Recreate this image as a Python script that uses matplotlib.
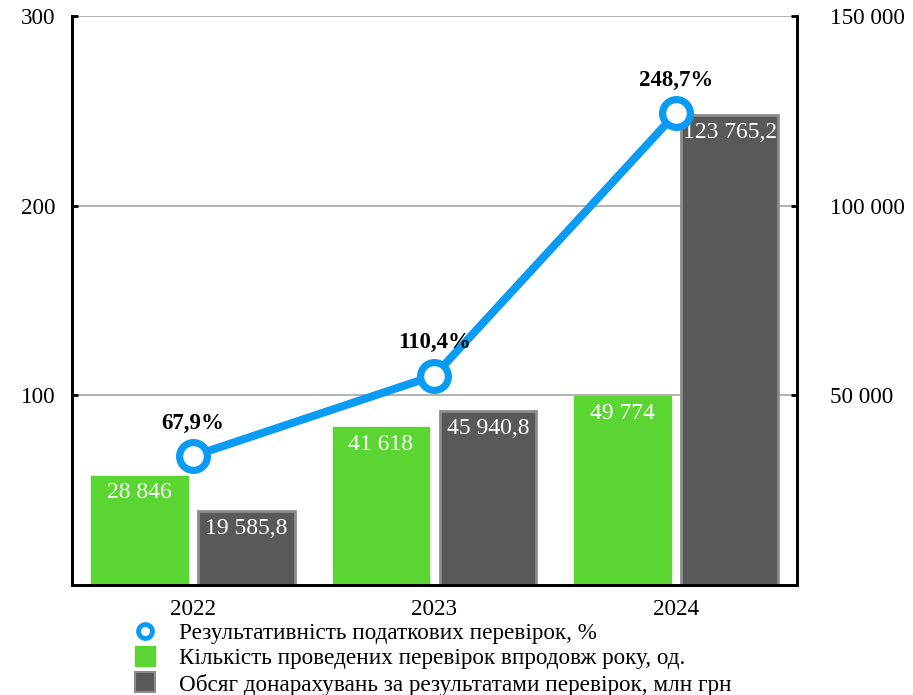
import matplotlib.pyplot as plt
from matplotlib.lines import Line2D
import numpy as np

plt.rcParams['font.family'] = ['Liberation Serif', 'DejaVu Serif']

years = ["2022", "2023", "2024"]
checks = [28846, 41618, 49774]
amounts = [19585.8, 45940.8, 123765.2]
efficiency = [67.9, 110.4, 248.7]

label_line = "Результативність податкових перевірок, %"
label_checks = "Кількість проведених перевірок впродовж року, од."
label_amounts = "Обсяг донарахувань за результатами перевірок, млн грн"

green = "#5bd532"
grey = "#595959"
blue = "#0a9bf5"
fs = 16.7


def fmt(v, dec):
    s = f"{v:,.{dec}f}".replace(",", " ").replace(".", ",")
    return s


fig = plt.figure(figsize=(9.13, 6.95), dpi=100)
ax = fig.add_axes([0.0789, 0.1583, 0.794, 0.819])
ax2 = ax.twinx()
ax.set_zorder(ax2.get_zorder() + 1)
ax.patch.set_visible(False)

x = np.arange(len(years))
w = 0.4
ax2.bar(x - 0.222, checks, w, color=green, edgecolor=green, zorder=2)
ax2.bar(x + 0.222, amounts, w, color=grey, edgecolor="#8c8c8c", linewidth=2, zorder=2)
ax2.set_ylim(0, 150000)
ax2.set_yticks([50000, 100000, 150000])
ax2.set_yticklabels([fmt(v, 0) for v in [50000, 100000, 150000]])
ax2.yaxis.grid(True, color="#a6a6a6", linewidth=1.2)
ax2.set_axisbelow(True)

for i in range(len(years)):
    ax2.annotate(fmt(checks[i], 0), (x[i] - 0.222, checks[i]), xytext=(0, -5),
                 textcoords="offset points", ha="center", va="top",
                 color="white", fontsize=17)
    ax2.annotate(fmt(amounts[i], 1), (x[i] + 0.222, amounts[i]), xytext=(0, -5),
                 textcoords="offset points", ha="center", va="top",
                 color="white", fontsize=17)

ax.plot(x, efficiency, color=blue, linewidth=5.8, marker="o", markersize=20,
        markerfacecolor="white", markeredgecolor=blue, markeredgewidth=5.2, zorder=3)
for i in range(len(years)):
    ax.annotate(fmt(efficiency[i], 1) + "%", (x[i], efficiency[i]), xytext=(0, 16),
                textcoords="offset points", ha="center", va="bottom",
                color="black", fontsize=16.5, fontweight="bold")

ax.set_ylim(0, 300)
ax.set_yticks([100, 200, 300])
ax.set_xlim(-0.5, 2.5)
ax.set_xticks(x)
ax.set_xticklabels(years)

for a in (ax, ax2):
    a.spines["top"].set_visible(False)
    for s in ("left", "right", "bottom"):
        a.spines[s].set_linewidth(2)
        a.spines[s].set_color("black")
    a.tick_params(axis="y", labelsize=fs, width=2, length=4, direction="in",
                  colors="black")
    a.tick_params(axis="x", labelsize=fs, length=0, pad=10)
ax.tick_params(axis="y", pad=12)
ax2.tick_params(axis="y", pad=24)

handles = [
    Line2D([], [], color=blue, linestyle="none", marker="o", markersize=10,
           markerfacecolor="white", markeredgewidth=3.5),
    Line2D([], [], color=green, linestyle="none", marker="s", markersize=15),
    Line2D([], [], color=grey, linestyle="none", marker="s", markersize=15,
           markeredgecolor="#8c8c8c", markeredgewidth=1.5),
]
fig.legend(handles, [label_line, label_checks, label_amounts], loc="upper left",
           bbox_to_anchor=(0.146, 0.104), frameon=False, fontsize=fs,
           handlelength=1.0, handletextpad=0.95, labelspacing=0.18,
           borderpad=0, borderaxespad=0)

fig.savefig("out.png", dpi=100)
